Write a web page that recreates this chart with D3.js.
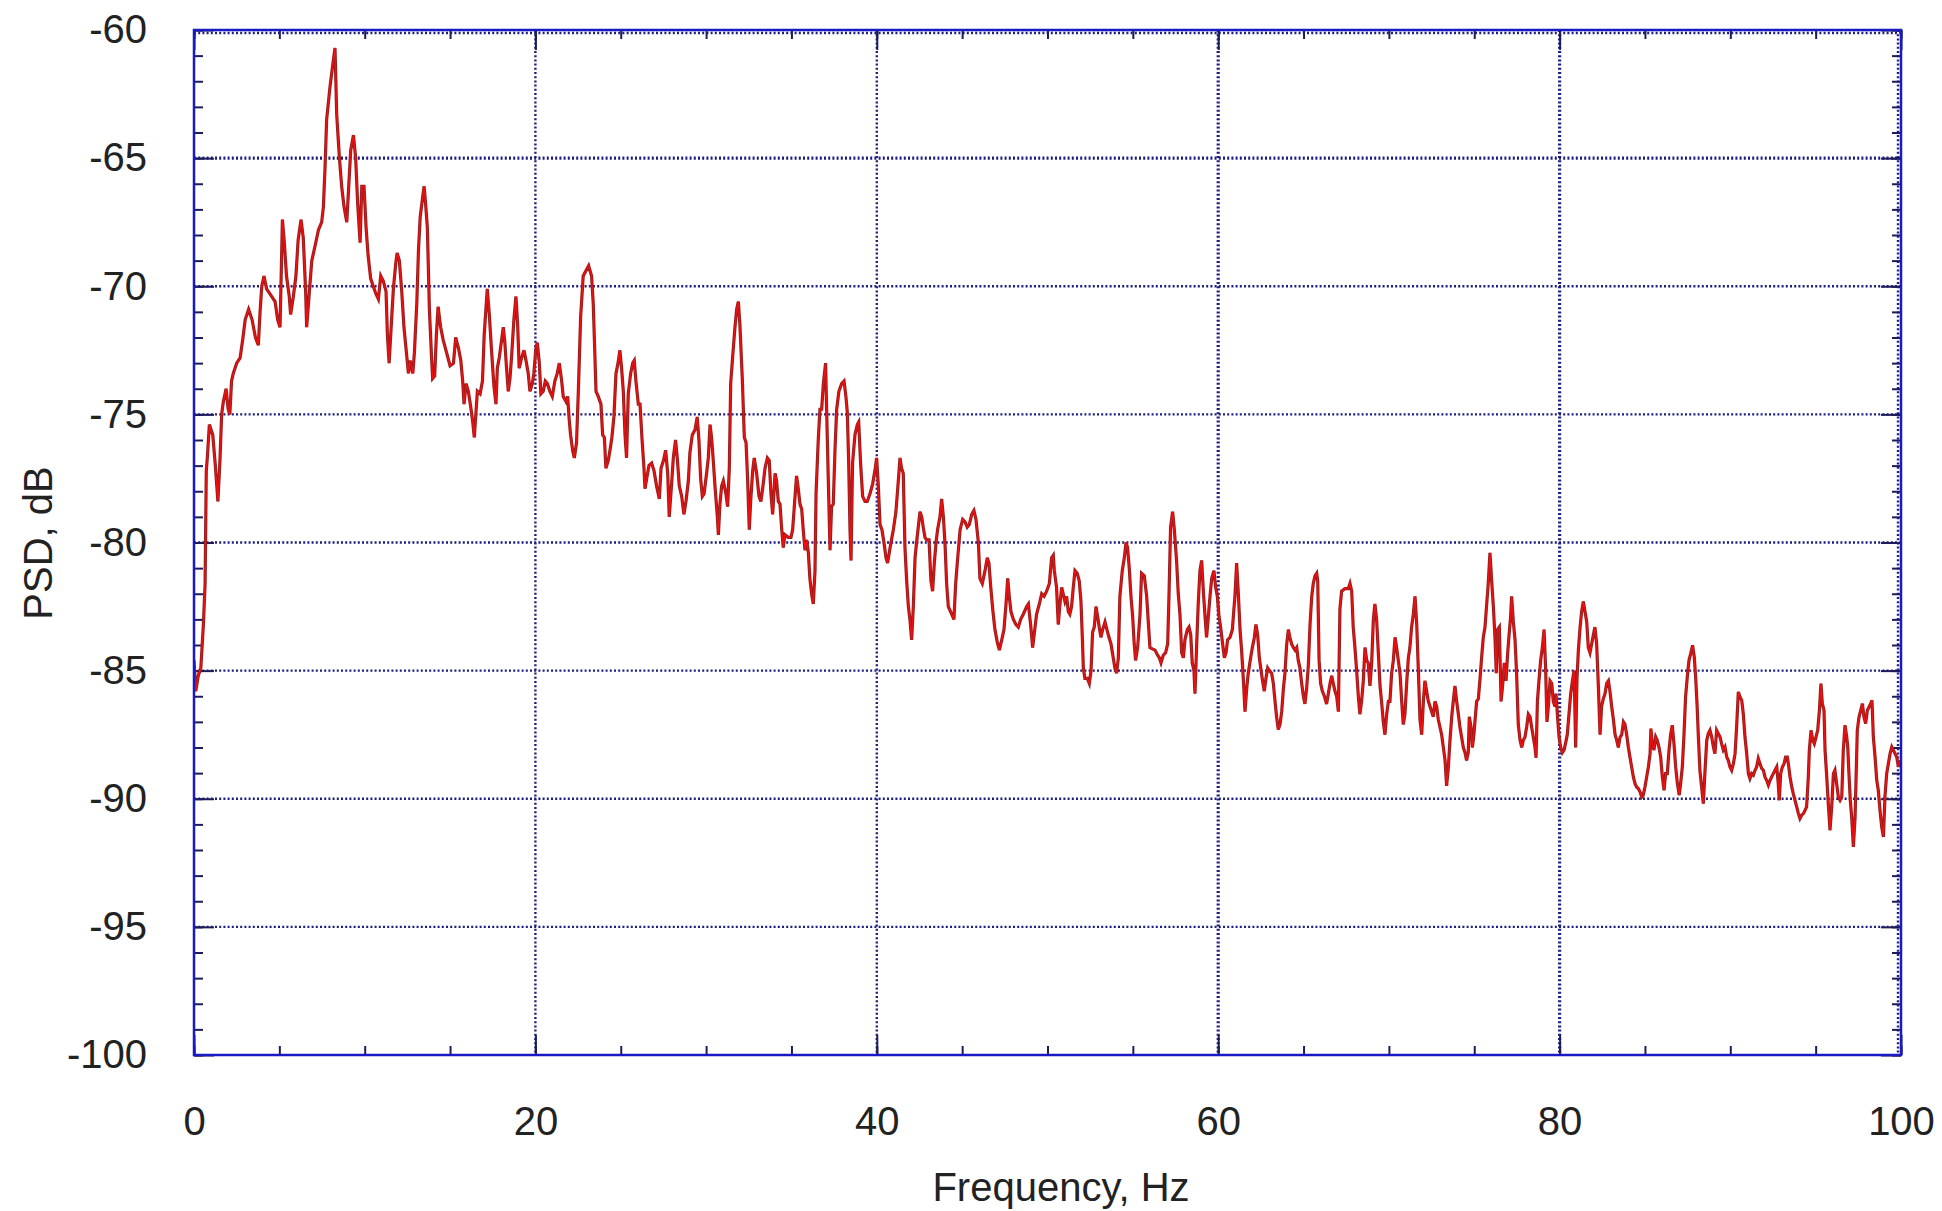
<!DOCTYPE html>
<html>
<head>
<meta charset="utf-8">
<script src="https://cdn.jsdelivr.net/npm/d3@7"></script>
<style>
  html, body { margin: 0; padding: 0; background: #fff; }
  svg { display: block; }
  text { font-family: "Liberation Sans", Arial, sans-serif; fill: #222; }
</style>
</head>
<body>
<svg id="chart" width="1942" height="1211"></svg>
<script>
// PSD trace, [frequency Hz, dB], one array per band
const band0to17 = [
  [0, -84.6], [0.1, -85.8], [0.25, -85.2], [0.4, -84.9], [0.55, -83.2], [0.65, -81.6], [0.72, -77.2],
  [0.78, -76.7], [0.9, -75.4], [1.0, -75.6], [1.1, -75.8], [1.25, -77], [1.4, -78.4], [1.52, -76.8],
  [1.62, -75], [1.72, -74.5], [1.88, -74], [2.0, -74.8], [2.1, -75], [2.2, -73.7], [2.3, -73.4],
  [2.5, -73], [2.7, -72.8], [2.85, -72.1], [3.0, -71.3], [3.2, -70.9], [3.4, -71.3], [3.6, -72],
  [3.77, -72.3], [3.87, -71], [3.97, -70], [4.1, -69.6], [4.25, -70.1], [4.45, -70.3], [4.75, -70.6],
  [4.9, -71.3], [5.04, -71.6], [5.18, -67.4], [5.28, -68.2], [5.42, -69.6], [5.58, -70.4], [5.66, -71.1],
  [5.82, -70.4], [5.97, -69.6], [6.1, -68.2], [6.27, -67.4], [6.4, -68.1], [6.54, -70.2], [6.6, -71.6],
  [6.76, -70.2], [6.9, -69], [7.1, -68.4], [7.29, -67.8], [7.48, -67.5], [7.58, -66.9], [7.68, -65.3],
  [7.77, -63.5], [7.97, -62.2], [8.12, -61.4], [8.26, -60.7], [8.36, -63.3], [8.52, -65], [8.65, -66.1],
  [8.79, -66.9], [8.95, -67.5], [9.04, -66.4], [9.18, -64.7], [9.34, -64.1], [9.47, -65], [9.59, -66.8],
  [9.73, -68.3], [9.83, -66.1], [9.96, -66.1], [10.08, -67.7], [10.2, -68.8], [10.35, -69.7], [10.5, -70],
  [10.66, -70.3], [10.8, -70.5], [10.94, -69.6], [11.09, -69.8], [11.25, -70.2], [11.33, -71.9], [11.43, -73],
  [11.55, -71.6], [11.68, -70.1], [11.82, -69.1], [11.9, -68.7], [12.03, -69], [12.17, -70.2], [12.3, -71.6],
  [12.46, -72.7], [12.56, -73.4], [12.66, -72.9], [12.82, -73.4], [12.91, -72.6], [13.05, -70.7], [13.15, -68.6],
  [13.25, -67.3], [13.38, -66.6], [13.48, -66.1], [13.57, -66.8], [13.67, -67.7], [13.79, -70.9], [13.91, -72.7],
  [13.98, -73.6], [14.1, -73.5], [14.2, -71.9], [14.3, -70.8], [14.45, -71.6], [14.6, -72.1], [14.8, -72.6],
  [15.0, -73.1], [15.2, -73], [15.33, -72], [15.49, -72.4], [15.63, -72.9], [15.74, -73.7], [15.82, -74.6],
  [15.94, -73.8], [16.07, -74.1], [16.21, -74.7], [16.33, -75.3], [16.42, -75.9], [16.52, -74.9], [16.6, -74.1],
  [16.76, -74.2], [16.9, -73.7], [17.0, -71.9]
];

const band17to34 = [
  [17.18, -70.1], [17.3, -71.1], [17.43, -72.5], [17.57, -73.9], [17.69, -74.6], [17.77, -73.2], [17.88, -72.8],
  [18.02, -72.1], [18.12, -71.6], [18.21, -72.2], [18.31, -73.2], [18.41, -74.1], [18.51, -73.6], [18.61, -72.7],
  [18.74, -71.3], [18.86, -70.4], [18.96, -71.5], [19.05, -73.2], [19.19, -72.8], [19.33, -72.5], [19.45, -72.9],
  [19.58, -73.4], [19.68, -74.1], [19.82, -73.8], [19.91, -73.4], [20.03, -72.4], [20.11, -72.2], [20.23, -73],
  [20.32, -74.2], [20.46, -74.1], [20.58, -73.7], [20.7, -73.8], [20.85, -74.1], [20.99, -74.3], [21.14, -73.7],
  [21.28, -73.4], [21.4, -73], [21.54, -73.7], [21.63, -74.3], [21.79, -74.5], [21.89, -74.3], [21.98, -75.2],
  [22.06, -75.8], [22.18, -76.4], [22.28, -76.7], [22.41, -76.1], [22.51, -74.2], [22.65, -71.2], [22.8, -69.6],
  [22.96, -69.4], [23.12, -69.2], [23.29, -69.6], [23.39, -70.7], [23.49, -72.8], [23.55, -74.1], [23.68, -74.3],
  [23.84, -74.6], [23.94, -75.8], [24.04, -75.9], [24.13, -77.1], [24.27, -76.8], [24.37, -76.4], [24.48, -75.9],
  [24.6, -75.1], [24.72, -73.4], [24.84, -73], [24.95, -72.5], [25.05, -73.2], [25.15, -74.1], [25.25, -75.8],
  [25.34, -76.7], [25.44, -74.2], [25.58, -73.4], [25.7, -73], [25.79, -72.9], [25.89, -73.7], [26.03, -74.6],
  [26.13, -74.6], [26.24, -75.9], [26.36, -77.1], [26.42, -77.9], [26.52, -77.5], [26.65, -77], [26.81, -76.9],
  [26.95, -77.2], [27.1, -77.8], [27.26, -78.3], [27.36, -77.1], [27.5, -76.8], [27.63, -76.4], [27.75, -77.3],
  [27.84, -79], [27.98, -77.7], [28.08, -76.7], [28.21, -76], [28.31, -76.7], [28.43, -77.8], [28.57, -78.2],
  [28.7, -78.9], [28.82, -78.4], [28.96, -77.6], [29.05, -76.5], [29.19, -75.8], [29.35, -75.6], [29.48, -75.1],
  [29.58, -76], [29.68, -77.5], [29.78, -78.2], [29.88, -78.1], [30.03, -77.3], [30.13, -76.7], [30.23, -75.4],
  [30.32, -75.9], [30.42, -76.8], [30.52, -77.8], [30.66, -79], [30.72, -79.7], [30.81, -78.5], [30.91, -77.8],
  [31.01, -77.6], [31.16, -78.1], [31.26, -78.6], [31.36, -77.1], [31.44, -73.8], [31.55, -72.8], [31.69, -71.6],
  [31.79, -70.9], [31.89, -70.6], [31.98, -71.5], [32.12, -73.6], [32.24, -75.9], [32.34, -76.1], [32.43, -77.5],
  [32.53, -79.5], [32.61, -78.4], [32.73, -77.2], [32.82, -76.7], [32.96, -77.3], [33.1, -78.2], [33.21, -78.4],
  [33.35, -77.7], [33.45, -77.1], [33.59, -76.7], [33.7, -76.8], [33.8, -78.1], [33.9, -78.9], [34.04, -77.3]
];

const band34to50 = [
  [34.13, -77.6], [34.23, -78.4], [34.33, -78.5], [34.42, -79.4], [34.52, -80.2], [34.62, -79.7], [34.81, -79.8],
  [34.97, -79.8], [35.07, -79.5], [35.2, -78.3], [35.3, -77.4], [35.4, -77.9], [35.5, -78.5], [35.6, -78.7],
  [35.69, -79.5], [35.79, -80.3], [35.89, -79.9], [35.99, -80.4], [36.08, -81.4], [36.18, -82], [36.28, -82.4],
  [36.38, -81.1], [36.44, -78.1], [36.57, -76], [36.67, -74.8], [36.77, -74.8], [36.87, -73.8], [37.0, -73],
  [37.06, -74.8], [37.16, -77.6], [37.26, -80.3], [37.35, -78.6], [37.45, -78.5], [37.55, -76.4], [37.65, -74.8],
  [37.78, -74.1], [37.94, -73.8], [38.08, -73.7], [38.19, -74.3], [38.27, -74.9], [38.35, -76.8], [38.43, -79.5],
  [38.49, -80.7], [38.58, -76.9], [38.72, -75.8], [38.86, -75.4], [38.94, -75.3], [39.05, -76.9], [39.17, -78.2],
  [39.31, -78.4], [39.44, -78.4], [39.6, -78.1], [39.76, -77.7], [39.91, -77.1], [39.99, -76.7], [40.09, -77.8],
  [40.19, -79.3], [40.3, -79.5], [40.42, -80], [40.54, -80.6], [40.63, -80.8], [40.73, -80.4], [40.83, -80],
  [40.97, -79.5], [41.12, -78.8], [41.26, -77.6], [41.36, -76.7], [41.45, -77.1], [41.55, -77.3], [41.65, -80.2],
  [41.75, -81.5], [41.85, -82.5], [41.94, -83], [42.04, -83.8], [42.14, -82.5], [42.24, -80.6], [42.33, -80],
  [42.43, -79.4], [42.53, -78.8], [42.63, -79], [42.72, -79.4], [42.82, -79.8], [42.92, -79.9], [43.06, -79.9],
  [43.17, -81.5], [43.27, -81.9], [43.37, -80.8], [43.47, -80], [43.56, -79.5], [43.7, -79], [43.8, -78.3],
  [43.9, -79], [44.0, -80.1], [44.09, -81.6], [44.19, -82.5], [44.39, -82.8], [44.52, -83], [44.62, -81.6],
  [44.74, -80.6], [44.88, -79.5], [45.03, -79.1], [45.17, -79.2], [45.3, -79.4], [45.42, -79.3], [45.56, -78.9],
  [45.69, -78.75], [45.81, -79.1], [45.95, -80], [46.04, -81.4], [46.18, -81.6], [46.34, -81.1], [46.47, -80.6],
  [46.57, -80.8], [46.67, -81.7], [46.79, -82.6], [46.92, -83.4], [47.06, -83.9], [47.18, -84.2], [47.32, -83.8],
  [47.45, -83.4], [47.57, -82.4], [47.67, -81.4], [47.76, -82.1], [47.86, -82.7], [48.0, -83], [48.15, -83.2],
  [48.29, -83.3], [48.43, -83], [48.58, -82.8], [48.78, -82.5], [48.88, -82.4], [49.01, -83.2], [49.13, -84.1],
  [49.27, -83.3], [49.36, -82.8], [49.52, -82.4], [49.66, -82], [49.8, -82.1], [49.95, -81.9], [50.11, -81.6],
  [50.24, -80.6], [50.34, -80.5]
];

const band50to67 = [
  [50.4, -81.1], [50.53, -81.75], [50.63, -83.2], [50.73, -82.4], [50.83, -81.75], [50.92, -82], [51.02, -82.3],
  [51.12, -82.1], [51.22, -82.7], [51.31, -82.8], [51.41, -82.5], [51.51, -81.75], [51.61, -81.1], [51.74, -81.2],
  [51.86, -81.5], [51.96, -82.3], [52.04, -83.7], [52.1, -84.9], [52.19, -85.3], [52.33, -85.3], [52.45, -85.5],
  [52.55, -85], [52.64, -83.5], [52.74, -83.3], [52.84, -82.5], [52.94, -82.9], [53.03, -83.3], [53.13, -83.7],
  [53.23, -83.4], [53.37, -83.1], [53.48, -83.4], [53.6, -83.7], [53.72, -83.96], [53.85, -84.5], [53.95, -84.9],
  [54.05, -85.1], [54.15, -84.5], [54.24, -82.1], [54.38, -81.1], [54.5, -80.6], [54.6, -80], [54.69, -80.2],
  [54.79, -81], [54.89, -82.1], [54.99, -82.9], [55.08, -83.96], [55.16, -84.6], [55.28, -84.1], [55.42, -82.8],
  [55.51, -81.2], [55.67, -81.3], [55.81, -82.1], [55.9, -83.05], [56.0, -84.1], [56.14, -84.15], [56.3, -84.2],
  [56.45, -84.4], [56.55, -84.5], [56.65, -84.7], [56.78, -84.4], [56.92, -84.3], [57.04, -83.96], [57.12, -82],
  [57.21, -79.4], [57.33, -78.8], [57.43, -79.5], [57.56, -80.7], [57.66, -82], [57.76, -82.8], [57.86, -84.3],
  [57.96, -84.5], [58.05, -83.8], [58.19, -83.4], [58.29, -83.3], [58.39, -83.6], [58.48, -84.7], [58.58, -85],
  [58.64, -85.9], [58.74, -83.96], [58.83, -82.4], [58.93, -81.1], [59.03, -80.7], [59.13, -81.9], [59.23, -82.9],
  [59.32, -83.7], [59.42, -82.9], [59.52, -82.1], [59.62, -81.4], [59.75, -81.1], [59.85, -81.75], [59.95, -82.1],
  [60.05, -82.9], [60.14, -83.3], [60.26, -83.96], [60.36, -84.5], [60.46, -84.3], [60.55, -83.8], [60.69, -83.7],
  [60.83, -83.4], [60.92, -82.6], [60.98, -82.1], [61.08, -80.8], [61.18, -82], [61.28, -83.4], [61.37, -84.2],
  [61.47, -85.3], [61.57, -86.6], [61.67, -85.7], [61.76, -85.1], [61.9, -84.5], [62.0, -84.1], [62.12, -83.7],
  [62.21, -83.2], [62.31, -83.6], [62.41, -84.5], [62.51, -85], [62.6, -85.4], [62.7, -85.8], [62.8, -85.3],
  [62.9, -84.9], [62.99, -85], [63.13, -85.1], [63.23, -85.5], [63.33, -86.2], [63.42, -86.8], [63.52, -87.3],
  [63.62, -87.1], [63.72, -86.6], [63.82, -85.7], [63.91, -85.1], [64.01, -84], [64.11, -83.4], [64.2, -83.7],
  [64.3, -83.96], [64.4, -84.1], [64.5, -84.2], [64.6, -84.1], [64.69, -84.6], [64.79, -84.9], [64.89, -85.5],
  [64.99, -86], [65.08, -86.3], [65.18, -85.7], [65.28, -84.8], [65.38, -83.2], [65.48, -82.1], [65.57, -81.6],
  [65.67, -81.3], [65.77, -81.2], [65.83, -81.5], [65.91, -84.6], [66.0, -85.5], [66.1, -85.8], [66.22, -86],
  [66.35, -86.3], [66.45, -85.9], [66.55, -85.5], [66.65, -85.2], [66.74, -85.5], [66.84, -85.8], [66.94, -86]
];

const band67to84 = [
  [67.04, -86.6], [67.13, -82.6], [67.23, -81.9], [67.43, -81.8], [67.62, -81.8], [67.72, -81.6], [67.82, -81.9],
  [67.91, -83.3], [68.01, -84.1], [68.11, -85], [68.21, -86], [68.3, -86.7], [68.4, -86.2], [68.5, -85.4],
  [68.6, -84.1], [68.7, -84.6], [68.79, -84.7], [68.89, -85.6], [68.99, -84.7], [69.09, -83], [69.18, -82.4],
  [69.28, -83], [69.38, -84.3], [69.48, -85.6], [69.57, -86.2], [69.67, -87], [69.77, -87.5], [69.87, -86.7],
  [69.97, -86.2], [70.06, -86.2], [70.16, -85.1], [70.26, -84.6], [70.36, -83.7], [70.45, -84.1], [70.55, -84.6],
  [70.65, -85.1], [70.75, -86.2], [70.84, -87.1], [70.94, -86.7], [71.04, -85.5], [71.14, -84.5], [71.23, -84.1],
  [71.33, -83.3], [71.43, -82.8], [71.53, -82.1], [71.63, -83.2], [71.72, -84.9], [71.82, -86.9], [71.92, -87.5],
  [72.02, -86.2], [72.11, -85.4], [72.21, -85.8], [72.31, -86.2], [72.41, -86.4], [72.5, -86.6], [72.6, -86.8],
  [72.7, -86.2], [72.8, -86.4], [72.89, -86.9], [72.99, -87.2], [73.09, -87.5], [73.19, -88], [73.29, -88.5],
  [73.38, -89.5], [73.48, -88.8], [73.58, -87.7], [73.68, -86.8], [73.77, -86.2], [73.87, -85.6], [73.97, -86.2],
  [74.07, -86.7], [74.16, -87.2], [74.26, -87.6], [74.36, -88], [74.46, -88.2], [74.55, -88.5], [74.65, -88.2],
  [74.71, -86.8], [74.81, -87.2], [74.89, -88], [74.98, -87.5], [75.04, -87], [75.14, -86.2], [75.24, -86.1],
  [75.34, -85.3], [75.43, -84.5], [75.53, -83.7], [75.63, -83.3], [75.73, -82.4], [75.82, -81.6], [75.92, -80.4],
  [76.02, -81.5], [76.12, -82.5], [76.22, -83.8], [76.29, -85.1], [76.37, -83.4], [76.47, -83.3], [76.57, -86.2],
  [76.66, -85.6], [76.76, -84.7], [76.86, -85.4], [76.96, -84.3], [77.04, -83.6], [77.13, -82.9], [77.19, -82.1],
  [77.29, -83.1], [77.39, -83.8], [77.48, -85.1], [77.58, -87.1], [77.68, -87.7], [77.78, -88], [77.88, -87.7],
  [77.97, -87.6], [78.07, -87.2], [78.17, -86.7], [78.27, -86.8], [78.36, -87.2], [78.46, -87.6], [78.56, -88],
  [78.62, -88.4], [78.7, -86.2], [78.79, -85.4], [78.89, -84.6], [78.99, -84.1], [79.09, -83.4], [79.18, -84.9],
  [79.26, -87], [79.34, -86.4], [79.44, -85.4], [79.54, -85.5], [79.63, -86.2], [79.73, -86.4], [79.79, -85.9],
  [79.89, -86.9], [79.97, -87.6], [80.06, -88], [80.16, -88.2], [80.26, -88.1], [80.36, -87.8], [80.45, -87.5],
  [80.55, -86.7], [80.65, -85.9], [80.75, -85.4], [80.85, -85], [80.94, -88], [81.02, -85.3], [81.1, -84.2],
  [81.2, -83.3], [81.29, -82.7], [81.39, -82.3], [81.49, -82.7], [81.59, -83.1], [81.68, -84.1], [81.78, -84.3],
  [81.88, -83.95], [81.98, -83.6], [82.07, -83.3], [82.17, -83.95], [82.27, -85.6], [82.37, -87.5], [82.46, -86.4],
  [82.56, -86.1], [82.66, -85.9], [82.76, -85.5], [82.86, -85.4], [82.95, -85.8], [83.05, -86.4], [83.15, -86.9],
  [83.25, -87.5], [83.34, -87.7], [83.44, -88], [83.54, -87.6], [83.64, -87.5], [83.74, -87], [83.83, -87.1],
  [83.93, -87.5], [84.03, -88]
];

const band84to100 = [
  [84.12, -88.37], [84.22, -88.76], [84.32, -89.15], [84.42, -89.41], [84.51, -89.54], [84.61, -89.6], [84.71, -89.73],
  [84.81, -89.93], [84.9, -89.86], [85.0, -89.54], [85.1, -89.15], [85.2, -88.76], [85.3, -88.24], [85.35, -87.26],
  [85.43, -87.85], [85.53, -88.1], [85.63, -87.59], [85.72, -87.72], [85.82, -87.98], [85.92, -88.37], [86.02, -89.15],
  [86.12, -89.67], [86.21, -89.02], [86.31, -89.02], [86.41, -88.1], [86.51, -87.46], [86.6, -87.13], [86.7, -87.85],
  [86.8, -88.76], [86.9, -89.41], [87.01, -89.86], [87.11, -89.28], [87.19, -88.76], [87.29, -87.46], [87.38, -86.03],
  [87.48, -85.25], [87.58, -84.6], [87.68, -84.34], [87.79, -84.01], [87.89, -84.47], [87.97, -85.25], [88.05, -86.29],
  [88.13, -87.59], [88.22, -88.89], [88.32, -89.54], [88.42, -90.19], [88.52, -88.89], [88.62, -87.72], [88.71, -87.46],
  [88.81, -87.33], [88.91, -87.59], [89.01, -87.98], [89.1, -88.24], [89.2, -87.33], [89.3, -87.46], [89.4, -87.59],
  [89.49, -87.85], [89.59, -88.1], [89.69, -87.98], [89.79, -88.37], [89.88, -88.5], [89.98, -88.76], [90.08, -88.89],
  [90.18, -88.63], [90.28, -88.24], [90.37, -87.2], [90.47, -85.83], [90.57, -86.03], [90.67, -86.16], [90.76, -86.68],
  [90.86, -87.59], [90.96, -88.24], [91.06, -89.02], [91.15, -89.21], [91.25, -89.02], [91.35, -89.08], [91.45, -88.89],
  [91.54, -88.76], [91.64, -88.43], [91.74, -88.63], [91.84, -88.82], [91.94, -88.89], [92.03, -89.15], [92.13, -89.28],
  [92.23, -89.47], [92.33, -89.28], [92.42, -89.15], [92.52, -89.02], [92.62, -88.89], [92.72, -88.76], [92.81, -89.41],
  [92.87, -90.06], [92.95, -89.02], [93.05, -88.76], [93.15, -88.63], [93.24, -88.37], [93.34, -88.37], [93.4, -88.63],
  [93.5, -89.15], [93.6, -89.54], [93.69, -89.8], [93.79, -90.06], [93.89, -90.32], [93.99, -90.58], [94.08, -90.77],
  [94.18, -90.64], [94.28, -90.58], [94.38, -90.45], [94.47, -90.32], [94.57, -89.15], [94.63, -88.1], [94.73, -87.33],
  [94.83, -87.72], [94.92, -87.85], [95.02, -87.59], [95.12, -87.33], [95.22, -86.55], [95.31, -85.51], [95.39, -86.29],
  [95.49, -86.55], [95.55, -88.1], [95.65, -89.15], [95.74, -90.19], [95.84, -91.23], [95.94, -90.32], [96.04, -89.02],
  [96.13, -88.89], [96.23, -89.41], [96.33, -89.93], [96.43, -90.06], [96.53, -89.93], [96.62, -88.1], [96.72, -87.13],
  [96.82, -87.59], [96.88, -87.98], [96.96, -89.15], [97.03, -90.06], [97.11, -90.71], [97.21, -91.88], [97.31, -90.71],
  [97.37, -89.15], [97.44, -87.33], [97.54, -86.81], [97.64, -86.55], [97.74, -86.29], [97.83, -86.81], [97.93, -87.07],
  [98.03, -86.55], [98.13, -86.42], [98.22, -86.29], [98.3, -86.16], [98.38, -87.59], [98.48, -88.37], [98.58, -89.28],
  [98.67, -89.67], [98.77, -90.45], [98.87, -91.1], [98.97, -91.49], [99.06, -89.93], [99.16, -89.02], [99.26, -88.63],
  [99.36, -88.24], [99.46, -87.98], [99.55, -88.1], [99.65, -88.24], [99.75, -88.37], [99.85, -88.76], [99.94, -88.5]
];

const xMajorTicks = [0, 20, 40, 60, 80, 100];
const yMajorTicks = [-100, -95, -90, -85, -80, -75, -70, -65, -60];
const xMinorTicks = d3.range(0, 101, 5);
const yMinorTicks = d3.range(-100, -59, 1);
const heavyX = [60, 80];
const heavyY = [-65];

const trace = band0to17.concat(band17to34, band34to50, band50to67, band67to84, band84to100);

const svg = d3.select("#chart");
const plotLeft = 194, plotRight = 1901, plotTop = 30, plotBottom = 1055;

const x = d3.scaleLinear().domain([0, 100]).range([plotLeft, plotRight]);
const y = d3.scaleLinear().domain([-100, -60]).range([plotBottom, plotTop]);

const gridColor = "#1e1e80";
const tickColor = "#1c1c5a";
const frameColor = "#1a1ac4";
const labelFont = '"Liberation Sans", Arial, sans-serif';

// dotted grid
const grid = svg.append("g").attr("fill", "none").attr("stroke", gridColor);

grid
  .selectAll(".vgrid")
  .data(xMajorTicks.filter((d) => d > 0))
  .enter()
  .append("line")
  .attr("class", "vgrid")
  .attr("x1", (d) => (d === 100 ? x(d) - 3 : x(d)))
  .attr("x2", (d) => (d === 100 ? x(d) - 3 : x(d)))
  .attr("y1", plotTop)
  .attr("y2", plotBottom)
  .attr("stroke-width", (d) => (heavyX.includes(d) ? 3.2 : 2.4))
  .attr("stroke-dasharray", "2,2.2");

grid
  .selectAll(".hgrid")
  .data(yMajorTicks.filter((d) => d > -100))
  .enter()
  .append("line")
  .attr("class", "hgrid")
  .attr("x1", plotLeft)
  .attr("x2", plotRight)
  .attr("y1", (d) => (d === -60 ? y(d) + 3 : y(d)))
  .attr("y2", (d) => (d === -60 ? y(d) + 3 : y(d)))
  .attr("stroke-width", (d) => (heavyY.includes(d) ? 3.2 : 2.4))
  .attr("stroke-dasharray", "2,2.2");

// inward ticks on all four sides, via d3 axes without domain path
function tickAxis(axisFn, scale, values, size, transform) {
  const g = svg
    .append("g")
    .attr("transform", transform)
    .call(axisFn(scale).tickValues(values).tickSize(-size).tickFormat(""));
  g.select(".domain").remove();
  g.selectAll(".tick line").attr("stroke", tickColor).attr("stroke-width", 2);
  return g;
}

tickAxis(d3.axisBottom, x, xMinorTicks, 9, `translate(0,${plotBottom})`);
tickAxis(d3.axisBottom, x, xMajorTicks, 20, `translate(0,${plotBottom})`);
tickAxis(d3.axisTop, x, xMinorTicks, 9, `translate(0,${plotTop})`);
tickAxis(d3.axisTop, x, xMajorTicks, 20, `translate(0,${plotTop})`);
tickAxis(d3.axisLeft, y, yMinorTicks, 9, `translate(${plotLeft},0)`);
tickAxis(d3.axisLeft, y, yMajorTicks, 20, `translate(${plotLeft},0)`);
tickAxis(d3.axisRight, y, yMinorTicks, 9, `translate(${plotRight},0)`);
tickAxis(d3.axisRight, y, yMajorTicks, 20, `translate(${plotRight},0)`);

// tick labels (plain hyphen minus, as in the original)
const plainFormat = (d) => String(d);

const xLabels = svg
  .append("g")
  .attr("transform", `translate(0,${plotBottom})`)
  .call(d3.axisBottom(x).tickValues(xMajorTicks).tickSize(0).tickPadding(52).tickFormat(plainFormat));
xLabels.select(".domain").remove();
xLabels.selectAll("text").attr("font-size", 40).attr("fill", "#222").attr("font-family", labelFont);

const yLabels = svg
  .append("g")
  .attr("transform", `translate(${plotLeft},0)`)
  .call(d3.axisLeft(y).tickValues(yMajorTicks).tickSize(0).tickPadding(47).tickFormat(plainFormat));
yLabels.select(".domain").remove();
yLabels.selectAll("text").attr("font-size", 40).attr("fill", "#222").attr("font-family", labelFont);

// trace
svg
  .append("defs")
  .append("clipPath")
  .attr("id", "plot-clip")
  .append("rect")
  .attr("x", plotLeft)
  .attr("y", plotTop)
  .attr("width", plotRight - plotLeft)
  .attr("height", plotBottom - plotTop);

const line = d3
  .line()
  .x((d) => x(d[0]))
  .y((d) => y(d[1]));

const traceLayer = svg.append("g").attr("clip-path", "url(#plot-clip)");
traceLayer
  .append("path")
  .datum(trace)
  .attr("fill", "none")
  .attr("stroke", "#9a1c1c")
  .attr("stroke-width", 3.2)
  .attr("d", line);
traceLayer
  .append("path")
  .datum(trace)
  .attr("fill", "none")
  .attr("stroke", "#f01010")
  .attr("stroke-width", 1.3)
  .attr("d", line);

// frame
svg
  .append("rect")
  .attr("x", plotLeft)
  .attr("y", plotTop)
  .attr("width", plotRight - plotLeft)
  .attr("height", plotBottom - plotTop)
  .attr("fill", "none")
  .attr("stroke", frameColor)
  .attr("stroke-width", 2.5);

// axis titles
svg
  .append("text")
  .attr("x", 1061)
  .attr("y", 1201)
  .attr("text-anchor", "middle")
  .attr("font-size", 40)
  .text("Frequency, Hz");

svg
  .append("text")
  .attr("transform", "translate(52,543) rotate(-90)")
  .attr("text-anchor", "middle")
  .attr("font-size", 40)
  .text("PSD, dB");
</script>
</body>
</html>
